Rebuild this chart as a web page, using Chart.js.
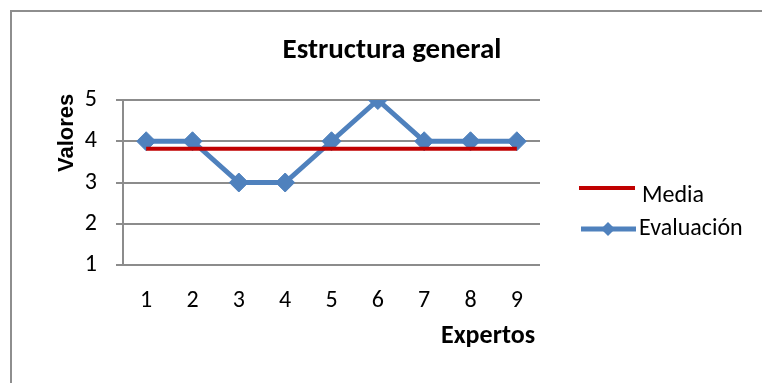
<!DOCTYPE html>
<html lang="es">
<head>
<meta charset="utf-8">
<title>Estructura general</title>
<script src="https://cdn.jsdelivr.net/npm/chart.js@4.4.1/dist/chart.umd.min.js"></script>
<style>
  html, body { margin: 0; padding: 0; background: #fff; overflow: hidden; }
  #frame { position: absolute; left: 10px; top: 10px; width: 900px; height: 500px; border: 2px solid #8e8e8e; }
  #wrap { position: absolute; left: 0; top: 0; width: 762px; height: 383px; }
</style>
</head>
<body>
<div id="frame"></div>
<div id="wrap"><canvas id="chart" width="762" height="383"></canvas></div>
<script>
const expertos = ['1', '2', '3', '4', '5', '6', '7', '8', '9'];
const evaluacion = [4, 4, 3, 3, 4, 5, 4, 4, 4];
const media = [3.82, 3.82, 3.82, 3.82, 3.82, 3.82, 3.82, 3.82, 3.82];
const valoresTicks = [1, 2, 3, 4, 5];

const FONT = 'Carlito, Lato, sans-serif';
const RED = '#c00000';
const BLUE = '#4f81bd';
const GRID = '#8c8c8c';

// title, axis titles and the legend on the right
const decor = {
  id: 'decor',
  afterDraw(chart) {
    const ctx = chart.ctx;
    ctx.save();
    ctx.fillStyle = '#000';
    ctx.textBaseline = 'alphabetic';

    ctx.font = 'bold 29px ' + FONT;
    ctx.textAlign = 'center';
    ctx.fillText('Estructura general', 392, 58);

    ctx.font = 'bold 26px ' + FONT;
    ctx.textAlign = 'right';
    ctx.fillText('Expertos', 535, 343);

    ctx.save();
    ctx.translate(73, 172);
    ctx.rotate(-Math.PI / 2);
    ctx.font = 'bold 22px "Liberation Sans", Arial, sans-serif';
    ctx.textAlign = 'left';
    ctx.fillText('Valores', 0, 0);
    ctx.restore();

    // legend
    const sets = chart.data.datasets;
    ctx.lineCap = 'butt';
    ctx.strokeStyle = sets[0].borderColor;
    ctx.lineWidth = sets[0].borderWidth;
    ctx.beginPath();
    ctx.moveTo(579, 188);
    ctx.lineTo(635, 188);
    ctx.stroke();

    ctx.strokeStyle = sets[1].borderColor;
    ctx.lineWidth = sets[1].borderWidth;
    ctx.beginPath();
    ctx.moveTo(581, 229);
    ctx.lineTo(636, 229);
    ctx.stroke();
    ctx.fillStyle = sets[1].pointBackgroundColor;
    ctx.beginPath();
    ctx.moveTo(608, 222);
    ctx.lineTo(615, 229);
    ctx.lineTo(608, 236);
    ctx.lineTo(601, 229);
    ctx.closePath();
    ctx.fill();

    ctx.fillStyle = '#000';
    ctx.font = '24px ' + FONT;
    ctx.textAlign = 'left';
    ctx.fillText(sets[0].label, 642, 202);
    ctx.fillText(sets[1].label, 639, 235);
    ctx.restore();
  }
};

new Chart(document.getElementById('chart'), {
  type: 'line',
  data: {
    labels: expertos,
    datasets: [
      {
        label: 'Media',
        data: media,
        borderColor: RED,
        borderWidth: 4,
        pointRadius: 0,
        fill: false
      },
      {
        label: 'Evaluación',
        data: evaluacion,
        borderColor: BLUE,
        borderWidth: 5,
        pointStyle: 'rectRot',
        pointRadius: 9.5,
        pointBackgroundColor: BLUE,
        pointBorderColor: BLUE,
        pointBorderWidth: 1,
        tension: 0,
        fill: false
      }
    ]
  },
  options: {
    responsive: false,
    animation: false,
    layout: { padding: { left: 0, top: 100, right: 222, bottom: 0 } },
    plugins: {
      legend: { display: false },
      title: { display: false },
      tooltip: { enabled: false }
    },
    scales: {
      x: {
        offset: true,
        grid: { display: false },
        border: { display: false },
        ticks: { color: '#000', font: { family: FONT, size: 24 }, padding: 14, maxRotation: 0 },
        afterFit: s => { s.height = 118; }
      },
      y: {
        min: 1,
        max: 5,
        afterBuildTicks: s => { s.ticks = valoresTicks.map(v => ({ value: v })); },
        ticks: { color: '#000', font: { family: FONT, size: 24 }, padding: 19 },
        grid: { color: GRID, lineWidth: 2, tickLength: 7 },
        border: { color: GRID, width: 2 },
        afterFit: s => { s.width = 123; }
      }
    }
  },
  plugins: [decor]
});
</script>
</body>
</html>
